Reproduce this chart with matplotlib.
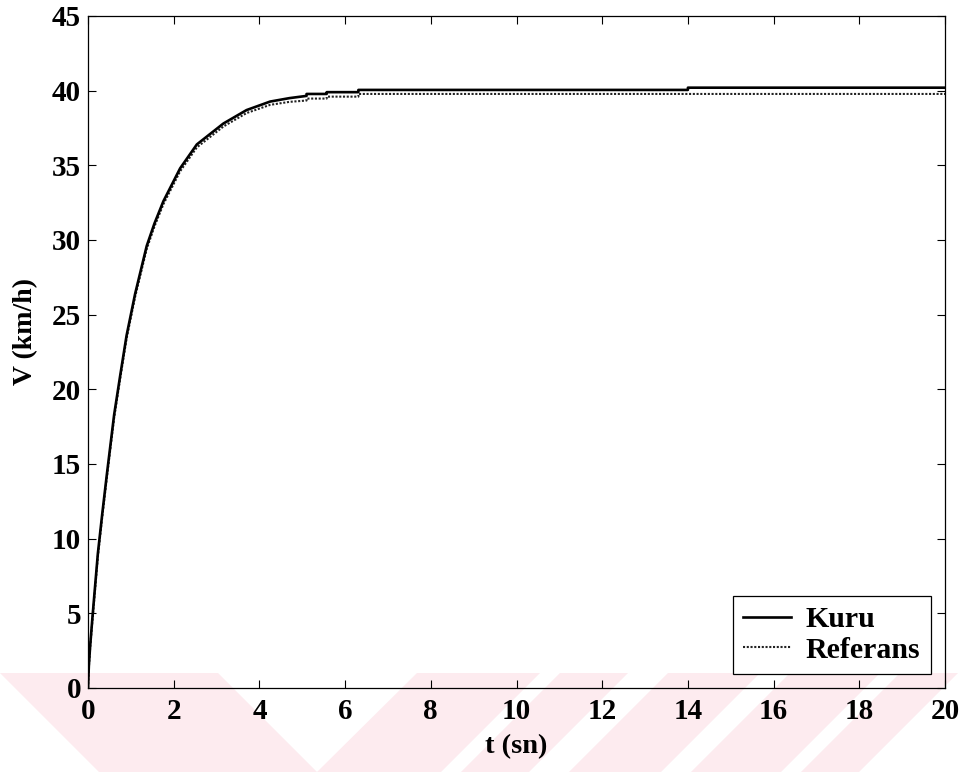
import matplotlib

matplotlib.use("Agg")
import matplotlib.pyplot as plt
from matplotlib.patches import Polygon

# values
t_kuru = [0, 0.02, 0.05, 0.10, 0.15, 0.23, 0.33, 0.44, 0.61, 0.75, 0.90, 1.10, 1.37,
          1.55, 1.76, 2.15, 2.54, 3.16, 3.70, 4.25, 4.70, 5.10, 5.10, 5.57, 5.57,
          6.31, 6.31, 14.0, 14.0, 20.0]
v_kuru = [0, 1.5, 2.8, 4.6, 6.3, 9.0, 11.6, 14.3, 18.3, 20.9, 23.6, 26.4, 29.6,
          31.1, 32.6, 34.8, 36.4, 37.8, 38.7, 39.27, 39.5, 39.65, 39.78, 39.78, 39.9,
          39.9, 40.05, 40.05, 40.2, 40.2]

t_ref = [0, 0.02, 0.05, 0.10, 0.15, 0.23, 0.33, 0.44, 0.61, 0.75, 0.90, 1.10, 1.37,
         1.55, 1.76, 2.15, 2.54, 3.16, 3.70, 4.25, 4.70, 5.10, 5.10, 5.57, 5.57,
         6.31, 6.31, 20.0]
v_ref = [0, 1.4, 2.7, 4.4, 6.1, 8.8, 11.4, 14.1, 18.1, 20.7, 23.4, 26.2, 29.4,
         30.9, 32.4, 34.6, 36.2, 37.6, 38.5, 39.05, 39.25, 39.34, 39.47, 39.47, 39.6,
         39.6, 39.78, 39.78]

x_ticks = list(range(0, 21, 2))
y_ticks = list(range(0, 46, 5))
series_labels = ["Kuru", "Referans"]

W, H = 967, 772
plt.rcParams["font.family"] = ["Liberation Serif", "DejaVu Serif"]
plt.rcParams["font.weight"] = "bold"

fig = plt.figure(figsize=(W / 100, H / 100), dpi=100)
fig.patch.set_facecolor("white")


def px(x, y):
    return (x / W, 1 - y / H)


# faint pink watermark along the bottom edge
pink = "#fdebef"
wm = [
    [(0, 673), (218, 673), (317, 772), (99, 772)],
    [(417, 673), (540, 673), (441, 772), (317, 772)],
    [(560, 673), (628, 673), (529, 772), (461, 772)],
    [(668, 673), (760, 673), (661, 772), (569, 772)],
    [(790, 673), (880, 673), (781, 772), (691, 772)],
    [(900, 673), (958, 673), (859, 772), (801, 772)],
]
for poly in wm:
    fig.patches.append(Polygon([px(*p) for p in poly], closed=True,
                               transform=fig.transFigure, facecolor=pink,
                               edgecolor="none", zorder=-5))

ax = fig.add_axes([88 / W, 1 - 688 / H, 857 / W, 672 / H])
ax.set_facecolor("none")
ax.set_zorder(2)

ax.plot(t_kuru, v_kuru, color="black", lw=1.9, label=series_labels[0], zorder=3)
ax.plot(t_ref, v_ref, color="#222222", lw=1.5, ls=(0, (1, 0.8)),
        label=series_labels[1], zorder=2)

ax.set_xlim(0, 20)
ax.set_ylim(0, 45)
ax.set_xticks(x_ticks)
ax.set_yticks(y_ticks)
ax.tick_params(direction="in", length=5.5, width=0.8, top=True, right=True,
               labelsize=21)
ax.tick_params(axis="x", pad=7.5)
ax.tick_params(axis="y", pad=5)
for sp in ax.spines.values():
    sp.set_linewidth(0.9)

ax.set_xlabel("t (sn)", fontsize=20.5, fontweight="bold")
ax.set_ylabel("V (km/h)", fontsize=20, fontweight="bold")
ax.xaxis.set_label_coords(0.5, -0.068)
ax.yaxis.set_label_coords(-0.058, 0.53)

leg = ax.legend(loc="lower right", bbox_to_anchor=(1 - 14 / 857, 14 / 672),
                borderaxespad=0, fontsize=21.5, frameon=True, fancybox=False,
                handlelength=1.6, handletextpad=0.5, borderpad=0.35,
                labelspacing=0.12)
leg.get_frame().set_edgecolor("black")
leg.get_frame().set_linewidth(0.9)
leg.get_frame().set_alpha(1)

fig.savefig("out.png", dpi=100)
